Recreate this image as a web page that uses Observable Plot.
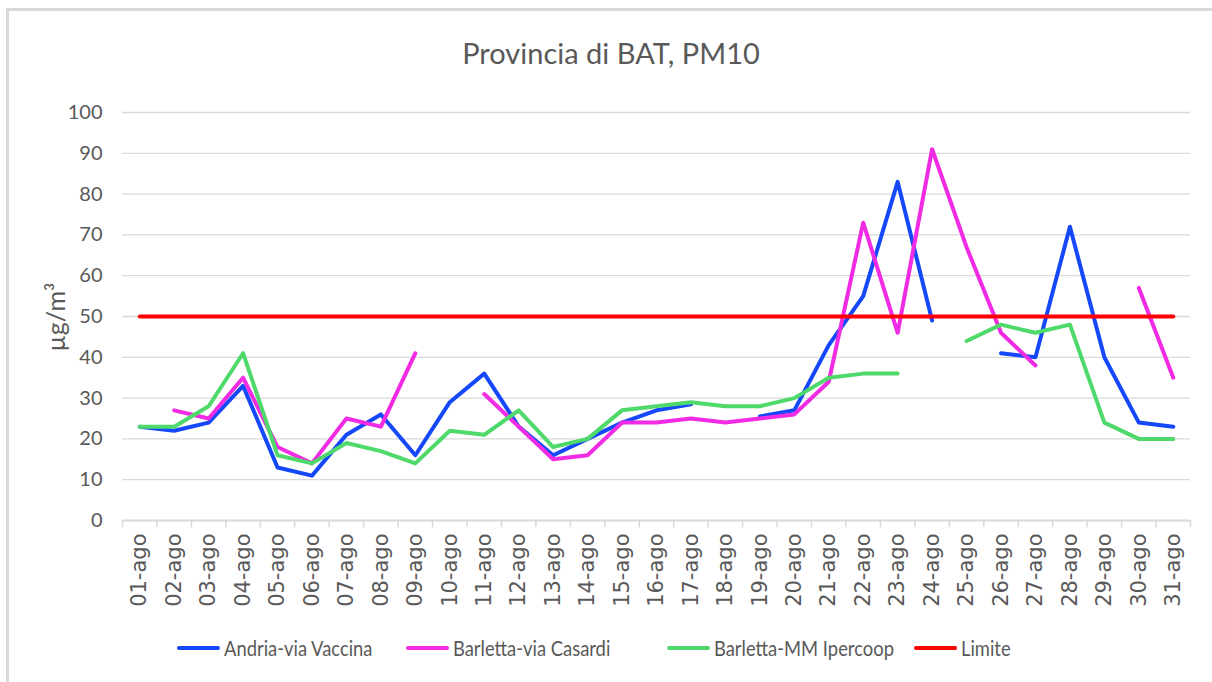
<!DOCTYPE html>
<html>
<head>
<meta charset="utf-8">
<script src="https://cdn.jsdelivr.net/npm/d3@7"></script>
<script src="https://cdn.jsdelivr.net/npm/@observablehq/plot@0.6"></script>
<style>
  html, body { margin: 0; background: #fff; overflow: hidden; }
  #wrap { position: relative; width: 1212px; height: 682px; overflow: hidden; font-family: Lato, sans-serif; color: #595959; background: #fff; }
  #frame { position: absolute; left: 6px; top: 8px; width: 1300px; height: 800px; border-left: 3px solid #d9d9d9; border-top: 3px solid #d9d9d9; box-sizing: border-box; }
  #chart { position: absolute; left: 0; top: 0; }
  #title { position: absolute; left: 0; width: 1222px; top: 38px; text-align: center; font-size: 29px; line-height: 1; white-space: nowrap; }
  #ylabel { position: absolute; left: 55px; top: 317px; font-size: 25px; line-height: 1; white-space: nowrap; transform: translate(-50%, -50%) rotate(-90deg); }
  .leg { position: absolute; top: 636px; font-size: 21px; line-height: 24px; white-space: nowrap; display: flex; align-items: center; }
  .leg .sw { display: inline-block; width: 43px; height: 4px; margin-right: 4px; border-radius: 2px; }
  .leg .tx { display: inline-block; transform: scaleX(0.875); transform-origin: 0 50%; }
</style>
</head>
<body>
<div id="wrap">
  <div id="frame"></div>
  <div id="chart"></div>
  <div id="title"></div>
  <div id="ylabel"></div>
  <div id="legend"></div>
</div>
<script>
// ---- data ----
const title = "Provincia di BAT, PM10";
const yLabel = "µg/m³";
const dateLabels = ["01-ago","02-ago","03-ago","04-ago","05-ago","06-ago","07-ago","08-ago","09-ago","10-ago",
  "11-ago","12-ago","13-ago","14-ago","15-ago","16-ago","17-ago","18-ago","19-ago","20-ago",
  "21-ago","22-ago","23-ago","24-ago","25-ago","26-ago","27-ago","28-ago","29-ago","30-ago","31-ago"];
const yTicks = [0,10,20,30,40,50,60,70,80,90,100];
const seriesNames = ["Andria-via Vaccina","Barletta-via Casardi","Barletta-MM Ipercoop","Limite"];
const andria   = [23,22,24,33,13,11,21,26,16,29,36,23,16,20,24,27,28.5,null,25.5,27,43,55,83,49,null,41,40,72,40,24,23];
const casardi  = [null,27,25,35,18,14,25,23,41,null,31,23,15,16,24,24,25,24,25,26,34,73,46,91,67,46,38,null,null,57,35];
const ipercoop = [23,23,28,41,16,14,19,17,14,22,21,27,18,20,27,28,29,28,28,30,35,36,36,null,44,48,46,48,24,20,20];
const limite   = [50,50,50,50,50,50,50,50,50,50,50,50,50,50,50,50,50,50,50,50,50,50,50,50,50,50,50,50,50,50,50];

// ---- styles ----
const seriesColors = ["#1547fb","#f02be3","#4ed96a","#ff0000"];
const legendLeft = [177, 406, 667, 914];

// ---- build table ----
const allSeries = [andria, casardi, ipercoop, limite];
const days = dateLabels.map((_, i) => i + 1);
const rows = [];
allSeries.forEach((vals, s) => vals.forEach((v, i) => rows.push({day: days[i], value: v, series: seriesNames[s]})));
const boundaries = [...days.map(d => d - 0.5), days.length + 0.5];

const chart = Plot.plot({
  width: 1212,
  height: 682,
  marginTop: 112,
  marginBottom: 162,
  marginLeft: 122,
  marginRight: 22,
  style: {fontFamily: "Lato, sans-serif", fontSize: "20px", color: "#595959", background: "transparent", overflow: "visible"},
  x: {type: "linear", domain: [0.5, days.length + 0.5], ticks: days, tickFormat: d => dateLabels[d - 1],
      tickRotate: -90, tickSize: 0, tickPadding: 13, label: null, line: false},
  y: {domain: [0, 100], ticks: yTicks, tickSize: 0, tickPadding: 20, label: null},
  color: {domain: seriesNames, range: seriesColors},
  marks: [
    Plot.ruleY(yTicks.filter(t => t > 0), {stroke: "#d9d9d9", strokeWidth: 1.3}),
    Plot.ruleY([0], {stroke: "#d9d9d9", strokeWidth: 2}),
    Plot.ruleX(boundaries, {y1: 0, y2: -1.8, stroke: "#d9d9d9", strokeWidth: 1.5}),
    Plot.line(rows, {x: "day", y: "value", z: "series", stroke: "series", strokeWidth: 4,
      strokeLinejoin: "round", strokeLinecap: "round"})
  ]
});
// style the date tick labels (the x axis)
chart.querySelectorAll("text").forEach(t => {
  if (t.textContent.trim().endsWith("ago")) {
    t.setAttribute("font-family", "DejaVu Sans");
    t.setAttribute("font-size", "21");
    t.style.fontFamily = "'DejaVu Sans'";
    t.style.fontSize = "21px";
  }
});

document.getElementById("chart").appendChild(chart);
document.getElementById("title").textContent = title;
document.getElementById("ylabel").textContent = yLabel;

const legend = document.getElementById("legend");
seriesNames.forEach((name, i) => {
  const item = document.createElement("div");
  item.className = "leg";
  item.style.left = legendLeft[i] + "px";
  const sw = document.createElement("span");
  sw.className = "sw";
  sw.style.background = seriesColors[i];
  const tx = document.createElement("span");
  tx.className = "tx";
  tx.textContent = name;
  item.appendChild(sw);
  item.appendChild(tx);
  legend.appendChild(item);
});
</script>
</body>
</html>
